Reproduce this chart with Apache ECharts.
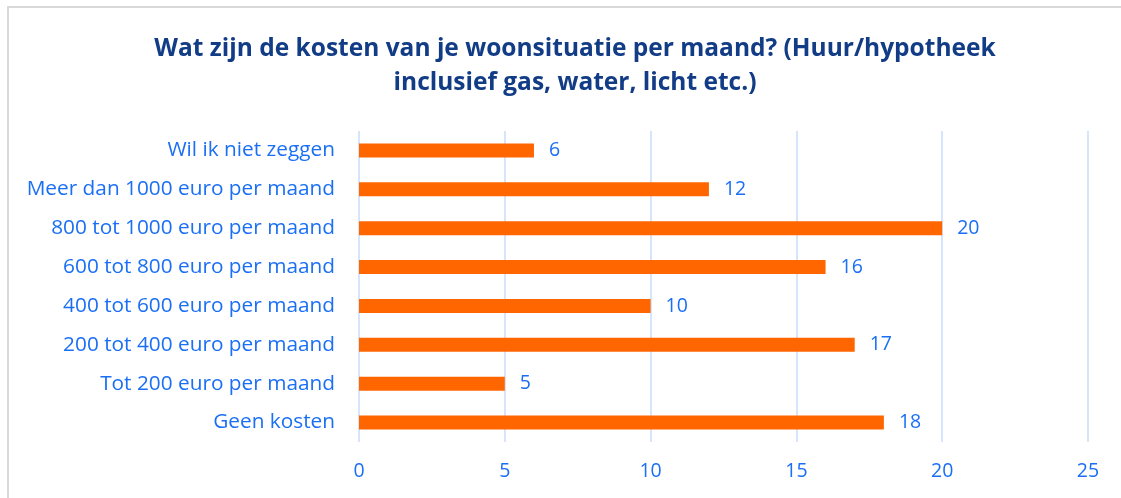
<!DOCTYPE html>
<html>
<head>
<meta charset="utf-8">
<script src="https://cdn.jsdelivr.net/npm/echarts@6/dist/echarts.min.js"></script>
<style>
  html, body { margin: 0; padding: 0; background: #fff; overflow: hidden; }
  #frame { position: absolute; left: 7px; top: 6px; width: 1130px; height: 510px;
    border-top: 2px solid #d9d9d9; border-left: 2px solid #d9d9d9; }
  #chart { position: absolute; left: 0; top: 0; width: 1121px; height: 498px; }
</style>
</head>
<body>
<div id="frame"></div>
<div id="chart"></div>
<script>
// categories, bottom to top as drawn
const categories = [
  'Geen kosten',
  'Tot 200 euro per maand',
  '200 tot 400 euro per maand',
  '400 tot 600 euro per maand',
  '600 tot 800 euro per maand',
  '800 tot 1000 euro per maand',
  'Meer dan 1000 euro per maand',
  'Wil ik niet zeggen'
]
const values = [18, 5, 17, 10, 16, 20, 12, 6]
const xTicks = [0, 5, 10, 15, 20, 25]

const font = 'Open Sans, Noto Sans, sans-serif'
const blue = '#1a6ff5'

const myChart = echarts.init(document.getElementById('chart'))
myChart.setOption({
  animation: false,
  title: {
    text: 'Wat zijn de kosten van je woonsituatie per maand? (Huur/hypotheek\ninclusief gas, water, licht etc.)',
    left: 570,
    top: 27,
    textAlign: 'center',
    textStyle: {
      color: '#123d86',
      fontFamily: font,
      fontWeight: 'bold',
      fontSize: 24.5,
      lineHeight: 34,
    },
  },
  grid: {
    left: 359,
    width: 729,
    top: 131,
    height: 311,
  },
  xAxis: {
    type: 'value',
    min: xTicks[0],
    max: xTicks[xTicks.length - 1],
    interval: 5,
    axisLine: { show: false },
    axisTick: { show: false },
    axisLabel: {
      color: blue,
      fontFamily: font,
      fontSize: 19.5,
      margin: 19,
    },
    splitLine: {
      show: true,
      lineStyle: { color: '#c9dcf7', width: 1.5 },
    },
  },
  yAxis: {
    type: 'category',
    data: categories,
    axisLine: { show: false },
    axisTick: { show: false },
    axisLabel: {
      color: blue,
      fontFamily: font,
      fontSize: 20.8,
      margin: 24,
    },
  },
  series: [
    {
      type: 'bar',
      data: values,
      barWidth: 14,
      itemStyle: { color: '#ff6600' },
      label: {
        show: true,
        position: 'right',
        distance: 15,
        color: blue,
        fontFamily: font,
        fontSize: 19.5,
      },
    },
  ],
})
</script>
</body>
</html>
